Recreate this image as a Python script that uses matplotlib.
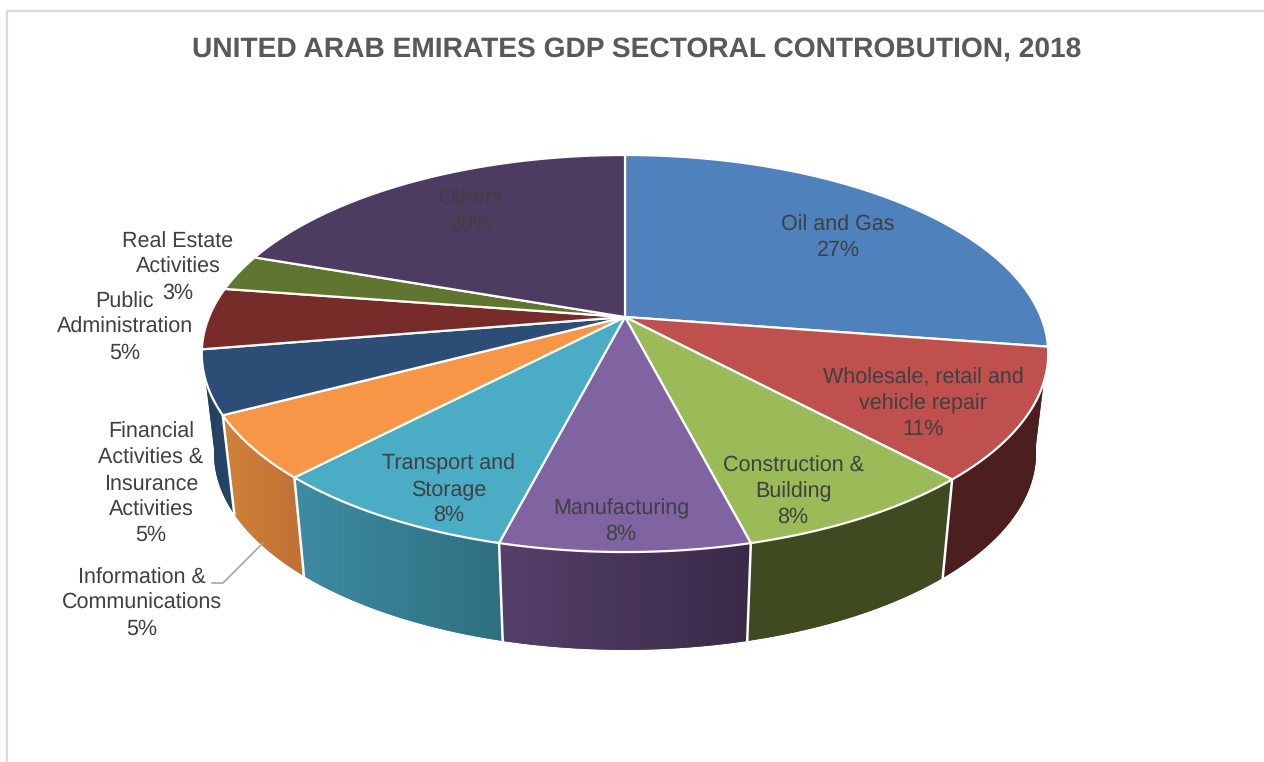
import numpy as np
import matplotlib
matplotlib.use('Agg')
import matplotlib.pyplot as plt
from matplotlib.colors import to_rgb
from matplotlib.patches import Polygon

plt.rcParams['font.family'] = ['Liberation Sans', 'DejaVu Sans']
plt.rcParams['text.hinting'] = 'no_hinting'

sectors = ['Oil and Gas', 'Wholesale, retail and\nvehicle repair', 'Construction &\nBuilding',
           'Manufacturing', 'Transport and\nStorage', 'Information &\nCommunications',
           'Financial\nActivities &\nInsurance\nActivities', 'Public\nAdministration',
           'Real Estate\nActivities', 'Others']
shares = [27, 11, 8, 8, 8, 5, 5, 5, 3, 20]
top_colors = ['#4f81bd', '#c0504d', '#9bbb59', '#8064a2', '#4bacc6',
              '#f79646', '#2c4d75', '#772c2a', '#5f7530', '#4d3b62']
# side wall colours, left end and right end of each slice
wall_left = ['#2f4d71', '#4c1e1e', '#404b22', '#55406a', '#3d8ca3',
             '#d08238', '#234263', '#471a19', '#39461c', '#2e2339']
wall_right = ['#2f4d71', '#4c1e1e', '#3f4a20', '#3a2a48', '#2f6f80',
              '#c07034', '#264568', '#471a19', '#39461c', '#2e2339']

label_xy = [(838, 237.5), (923, 403.5), (793, 491.5), (621, 521.5), (449, 489.5),
            (142, 603.5), (151, 484), (125, 327.5), (178, 267.5), (471, 211.5)]
label_color = '#404040'

# perspective of the disc, in figure pixels
cx = 625
top_y, top_rx, top_ry = 317, 416, 191.8
bot_y, bot_rx, bot_ry = 417, 404, 190
persp = 0.184
twist = 1.5


def project(pct, y0, rx, ry):
    t = np.radians(np.asarray(pct) * 3.6)
    t = t + np.radians(twist) * np.sin(t) ** 4
    u, v = np.sin(t), -np.cos(t)
    d = 1 - persp * v
    return cx + rx * u / d, y0 + ry * v / d


def top_edge(pct):
    return project(pct, top_y, top_rx, top_ry)


def bottom_edge(pct):
    return project(pct, bot_y, bot_rx, bot_ry)


def draw_walls(ax, start, end, left, right):
    pct = np.linspace(start, end, 60)
    xt, yt = top_edge(pct)
    xb, yb = bottom_edge(pct)
    outline = list(zip(xt, yt)) + list(zip(xb[::-1], yb[::-1]))
    c_left, c_right = np.array(to_rgb(left)), np.array(to_rgb(right))
    patch = Polygon(outline, facecolor=(c_left + c_right) / 2, edgecolor='none', zorder=2)
    ax.add_patch(patch)
    x0, x1 = min(xt.min(), xb.min()), max(xt.max(), xb.max())
    y0, y1 = min(yt.min(), yb.min()), max(yt.max(), yb.max())
    grad = np.linspace(0, 1, 128)[None, :, None]
    img = ax.imshow(c_left + (c_right - c_left) * grad, extent=[x0, x1, y1, y0],
                    aspect='auto', interpolation='bilinear', zorder=2.1)
    img.set_clip_path(patch)


def draw_top(ax, start, end, color):
    pct = np.linspace(start, end, max(int((end - start) * 4), 2) + 1)
    xt, yt = top_edge(pct)
    pts = [(cx, top_y)] + list(zip(xt, yt))
    ax.add_patch(Polygon(pts, closed=True, facecolor=color, edgecolor='white',
                         lw=1.6, joinstyle='round', zorder=4))


fig = plt.figure(figsize=(12.64, 7.62), dpi=100)
ax = fig.add_axes([0, 0, 1, 1])

edges = np.concatenate([[0], np.cumsum(shares)])

# only the front slices show a wall
for i in [6, 5, 4, 1, 2, 3]:
    draw_walls(ax, edges[i], edges[i + 1], wall_left[i], wall_right[i])

for i in [1, 2, 3, 4, 5]:
    xt, yt = top_edge(edges[i + 1])
    xb, yb = bottom_edge(edges[i + 1])
    ax.plot([xt, xb], [yt, yb], color='white', lw=1.8, zorder=3)

for i, color in enumerate(top_colors):
    draw_top(ax, edges[i], edges[i + 1], color)

for i, name in enumerate(sectors):
    x, y = label_xy[i]
    ax.text(x, y, f'{name}\n{shares[i]}%', ha='center', va='center', multialignment='center',
            fontsize=15.5, color=label_color, linespacing=1.33, zorder=6)

# leader for the Information & Communications label
ax.plot([212, 223, 263], [583, 583, 543], color='#a6a6a6', lw=1.2, zorder=5)

ax.text(636.5, 49, 'UNITED ARAB EMIRATES GDP SECTORAL CONTROBUTION, 2018', ha='center', va='center',
        fontsize=20.25, fontweight='bold', color='#595959', zorder=6)

# chart frame, only the top and left sides are in view
ax.plot([7, 7, 1264], [762, 11, 11], color='#d9d9d9', lw=1.6, zorder=1)

ax.set_xlim(0, 1264)
ax.set_ylim(762, 0)
ax.axis('off')

fig.savefig('out.png', dpi=100)
